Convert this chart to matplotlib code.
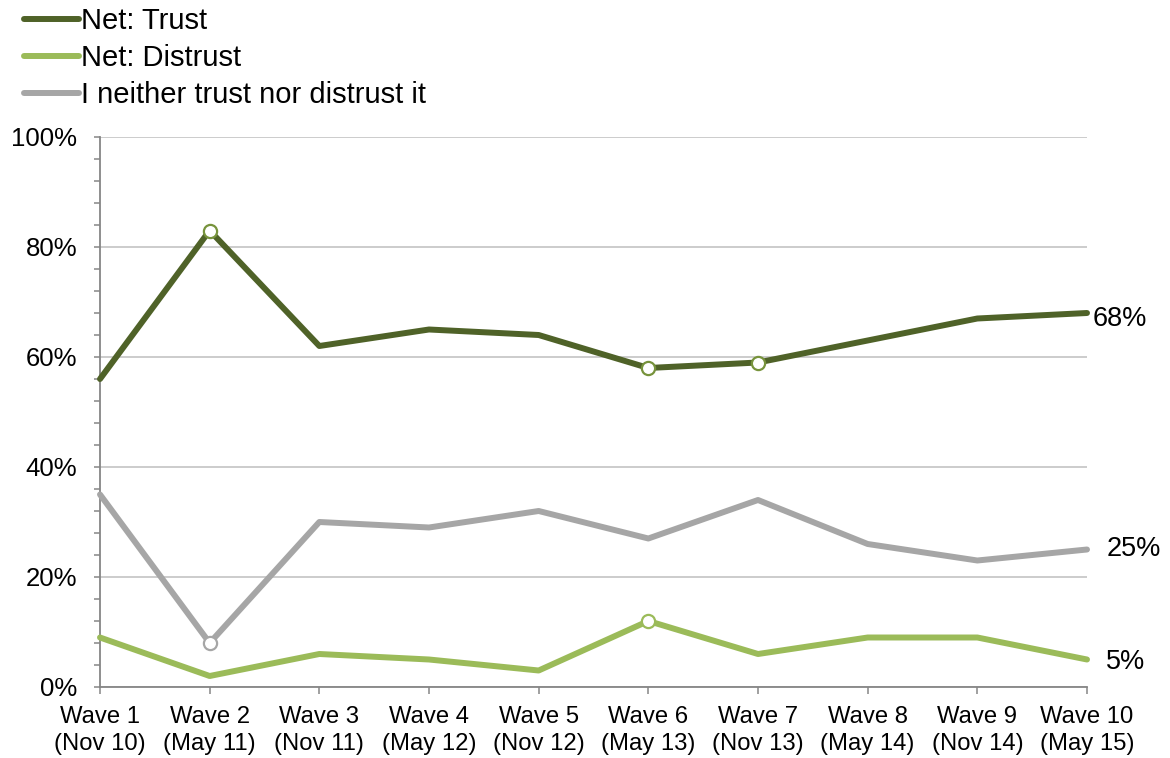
import matplotlib
matplotlib.use("Agg")
import matplotlib.pyplot as plt
from matplotlib.ticker import MultipleLocator, FuncFormatter

plt.rcParams['font.family'] = ['Liberation Sans', 'DejaVu Sans']

waves = ["Wave 1\n(Nov 10)", "Wave 2\n(May 11)", "Wave 3\n(Nov 11)", "Wave 4\n(May 12)",
         "Wave 5\n(Nov 12)", "Wave 6\n(May 13)", "Wave 7\n(Nov 13)", "Wave 8\n(May 14)",
         "Wave 9\n(Nov 14)", "Wave 10\n(May 15)"]
trust = [56, 83, 62, 65, 64, 58, 59, 63, 67, 68]
distrust = [9, 2, 6, 5, 3, 12, 6, 9, 9, 5]
neither = [35, 8, 30, 29, 32, 27, 34, 26, 23, 25]

# indices of highlighted (significant change) points
trust_marks = [1, 5, 6]
distrust_marks = [5]
neither_marks = [1]

labels = ["Net: Trust", "Net: Distrust", "I neither trust nor distrust it"]
colors = ["#4F6228", "#9BBB59", "#A6A6A6"]
marker_edges = ["#77933C", "#9BBB59", "#A6A6A6"]
end_offsets = [(4, -4), (14, -2), (14, 0)]

W, H = 1170, 758
fig = plt.figure(figsize=(W / 100, H / 100), dpi=100)
ax = fig.add_axes([100 / W, 1 - 687 / H, (1087 - 100) / W, (687 - 137) / H])

x = list(range(len(waves)))
series = [trust, distrust, neither]
marks = [trust_marks, distrust_marks, neither_marks]
handles = []
for s, m, c, mc, lab, off in zip(series, marks, colors, marker_edges, labels, end_offsets):
    h, = ax.plot(x, s, color=c, lw=4.3, solid_capstyle='round', solid_joinstyle='round',
                 label=lab, zorder=3, clip_on=False)
    handles.append(h)
    ax.plot([x[i] for i in m], [s[i] for i in m], linestyle='none', marker='o', ms=9.5,
            mfc='white', mec=mc, mew=1.6, zorder=4, clip_on=False)
    ax.annotate(f"{s[-1]}%", xy=(x[-1], s[-1]), xytext=off, textcoords='offset points',
                ha='left', va='center', fontsize=19.5, color='black')

ax.set_xlim(0, len(waves) - 1)
ax.set_ylim(0, 100)
ax.yaxis.set_major_locator(MultipleLocator(20))
ax.yaxis.set_minor_locator(MultipleLocator(4))
ax.yaxis.set_major_formatter(FuncFormatter(lambda v, p: f"{int(v)}%"))
ax.set_xticks(x)
ax.set_xticklabels(waves)
ax.grid(axis='y', which='major', color='#BFBFBF', lw=1.1, zorder=0)
ax.set_axisbelow(True)
for sp in ['top', 'right']:
    ax.spines[sp].set_visible(False)
for sp in ['left', 'bottom']:
    ax.spines[sp].set_color('#868686')
    ax.spines[sp].set_linewidth(1.3)
ax.tick_params(axis='y', which='major', length=4.5, width=1.1, color='#868686',
               labelsize=18.5, pad=12)
ax.tick_params(axis='y', which='minor', length=4.5, width=1.1, color='#868686')
ax.tick_params(axis='x', which='major', length=5, width=1.1, color='#868686',
               labelsize=17.2, pad=9)
for t in ax.get_xticklabels():
    t.set_linespacing(1.28)

leg = fig.legend(handles=handles, labels=labels, loc='upper left',
                 bbox_to_anchor=(18 / W, 1 - 1 / H), frameon=False, fontsize=21,
                 handlelength=1.9, handletextpad=0.07, labelspacing=0.31,
                 borderaxespad=0, borderpad=0.2)

fig.savefig("out.png", dpi=100, facecolor='white')
